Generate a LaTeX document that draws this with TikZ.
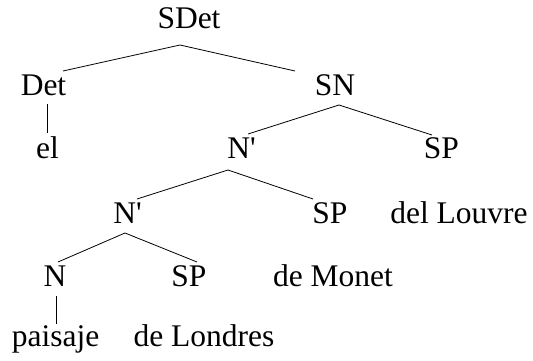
\documentclass[tikz,border=0pt]{standalone}
\usepackage{fontspec}
\setmainfont{Liberation Serif}
\begin{document}
\begin{tikzpicture}[x=1pt,y=1pt,
  lbl/.style={anchor=base,inner sep=0pt,font=\fontsize{31.5}{36}\selectfont},
  edge/.style={line width=0.8pt,black}]
\useasboundingbox (0,0) rectangle (533,360);
% nodes
\node[lbl] (sdet) at (189,332) {SDet};
\node[lbl] (det) at (43.5,265) {Det};
\node[lbl] (sn) at (335,265) {SN};
\node[lbl] (el) at (47.5,202) {el};
\node[lbl] (nb1) at (241.5,202) {N\textquotesingle};
\node[lbl] (sp1) at (441.5,202) {SP};
\node[lbl] (nb2) at (127.5,137) {N\textquotesingle};
\node[lbl] (sp2) at (330,137) {SP};
\node[lbl] (louvre) at (459,137) {del Louvre};
\node[lbl] (n) at (55,74) {N};
\node[lbl] (sp3) at (189,74) {SP};
\node[lbl] (monet) at (333,74) {de Monet};
\node[lbl] (paisaje) at (55.5,14) {paisaje};
\node[lbl] (londres) at (204,14) {de Londres};
% connector end points
\coordinate (sdetT) at (180,315);
\coordinate (detT) at (63,289);
\coordinate (snT) at (295,289);
\coordinate (detB) at (47,256);
\coordinate (elT) at (47,227);
\coordinate (snB) at (339,255);
\coordinate (nb1T) at (248,226);
\coordinate (sp1T) at (432,225);
\coordinate (nb1B) at (228,190);
\coordinate (nb2T) at (137,161);
\coordinate (sp2T) at (313,161);
\coordinate (nb2B) at (125,127);
\coordinate (nT) at (58,98);
\coordinate (sp3T) at (197,98);
\coordinate (nB) at (56,64);
\coordinate (paisajeT) at (56,36);
% connectors
\draw[edge] (detT) -- (sdetT) -- (snT);
\draw[edge] (detB) -- (elT);
\draw[edge] (nb1T) -- (snB) -- (sp1T);
\draw[edge] (nb2T) -- (nb1B) -- (sp2T);
\draw[edge] (nT) -- (nb2B) -- (sp3T);
\draw[edge] (nB) -- (paisajeT);
\end{tikzpicture}
\end{document}
